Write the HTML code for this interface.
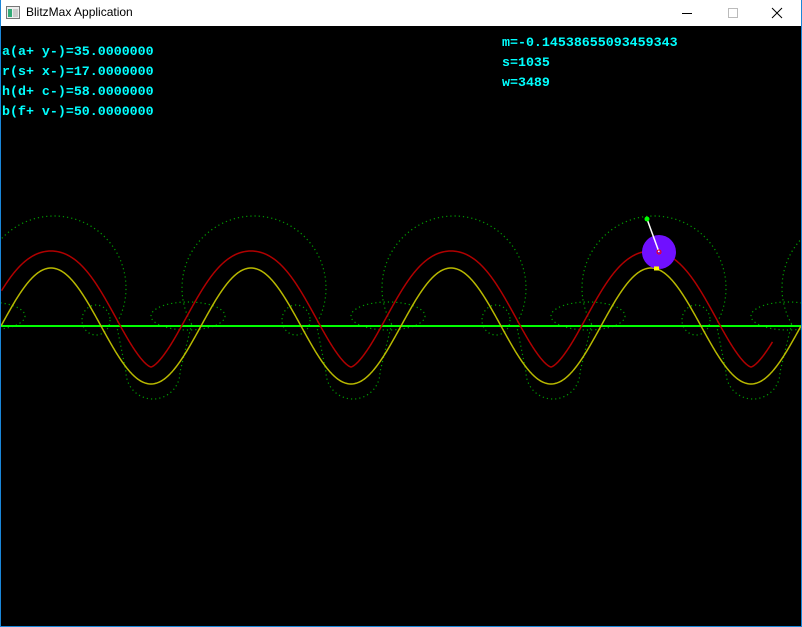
<!DOCTYPE html>
<html><head><meta charset="utf-8"><style>
html,body{margin:0;padding:0;background:#fff;}
#win{position:relative;width:802px;height:627px;overflow:hidden;background:#fff;}
#title{position:absolute;left:0;top:0;width:802px;height:26px;background:#fff;}
#title span{position:absolute;left:26px;top:5px;font:12px "Liberation Sans",sans-serif;color:#000;}
#canvas{position:absolute;left:1px;top:26px;width:800px;height:600px;background:#000;}
.frame{position:absolute;background:#1a86d8;}
.txt{position:absolute;font:bold 13.3px "Liberation Mono",monospace;color:#0ff;white-space:pre;line-height:20px;}
</style></head><body>
<div id="win">
<div id="title">
 <svg style="position:absolute;left:6px;top:6px" width="14" height="13"><rect x="0.5" y="0.5" width="13" height="12" fill="#eee" stroke="#777"/><rect x="2" y="3" width="4" height="8" fill="#3a7"/><rect x="7" y="3" width="5" height="8" fill="#ccc"/></svg>
 <span>BlitzMax Application</span>
 <svg style="position:absolute;left:680px;top:6px" width="14" height="14"><line x1="2" y1="7.5" x2="12" y2="7.5" stroke="#000"/></svg>
 <svg style="position:absolute;left:726px;top:6px" width="14" height="14"><rect x="2.5" y="2.5" width="9" height="9" fill="none" stroke="#bbb"/></svg>
 <svg style="position:absolute;left:770px;top:6px" width="14" height="14"><path d="M2 2L12 12M12 2L2 12" stroke="#000"/></svg>
</div>
<div class="frame" style="left:0;top:0;width:1px;height:627px"></div>
<div class="frame" style="right:0;top:0;width:1px;height:627px"></div>
<div class="frame" style="left:0;bottom:0;width:802px;height:1px"></div>
<div id="canvas">
 <svg id="plot" width="800" height="600" style="position:absolute;left:0;top:0"></svg>
 <div class="txt" style="left:1px;top:16px">a(a+ y-)=35.0000000
r(s+ x-)=17.0000000
h(d+ c-)=58.0000000
b(f+ v-)=50.0000000</div>
 <div class="txt" style="left:501px;top:7px">m=-0.14538655093459343
s=1035
w=3489</div>
</div>
</div>
<script>
// canvas coordinates (canvas origin at window x=1,y=26)
const waveParams = [58, 200, 17];      // amplitude h, period, offset r
const baselineY = [300];               // green axis line (canvas y)
const periodStarts = [-200, 0, 200, 400, 600, 800];
const bigArc = [53, -38, 72];          // dx, dy from baseline, radius
const troughArc = [152, 46, 27];
const loopA = [95, -6, 14, 15];        // dx, dy, rx, ry
const loopB = [187, -10, 37, 14];
const ball = [658, 226, 17];
const tip = [646, 193];

const NS = "http://www.w3.org/2000/svg";
const svg = document.getElementById('plot');
function mk(tag, attrs){const e=document.createElementNS(NS,tag);for(const k in attrs)e.setAttribute(k,attrs[k]);svg.appendChild(e);return e;}
const A=waveParams[0], P=waveParams[1], R=waveParams[2], y0=baselineY[0];
function yOf(x){return y0 - A*Math.sin(2*Math.PI*x/P);}
function dyOf(x){return -A*2*Math.PI/P*Math.cos(2*Math.PI*x/P);}

// dotted green trace
const dot={fill:'none',stroke:'#00a000','stroke-width':1.2,'stroke-dasharray':'1.2 3'};
for(const p of periodStarts){
  const cx=p+bigArc[0], cy=y0+bigArc[1], r=bigArc[2];
  const ey=y0-2, dx=Math.sqrt(r*r-(ey-cy)*(ey-cy));
  const tx=p+troughArc[0], ty=y0+troughArc[1], tr=troughArc[2];
  const d='M'+(cx-dx)+' '+ey+' A'+r+' '+r+' 0 1 1 '+(cx+dx)+' '+ey+
          ' L'+(tx-tr)+' '+ty+' A'+tr+' '+tr+' 0 0 0 '+(tx+tr)+' '+ty+
          ' L'+(cx+P-dx)+' '+ey;
  const e=mk('path',Object.assign({d:d},dot));
  
  
  for(const l of [loopA,loopB]){
    const q=mk('ellipse',Object.assign({cx:p+l[0],cy:y0+l[1],rx:l[2],ry:l[3]},dot));
    
    
  }
}
// green axis
const ax=mk('line',{x1:0,y1:y0,x2:800,y2:y0,stroke:'#00ff00','stroke-width':2});


// yellow sine
let d='';
for(let x=0;x<=800;x++){d+=(x?'L':'M')+x+' '+yOf(x).toFixed(2);}
const yl=mk('path',{d:d,fill:'none',stroke:'#b8b800','stroke-width':1.5});


// red parallel curve (offset along upward normal)
let d2='';
for(let x=-30;x<=786;x+=0.5){
  const s=dyOf(x), n=Math.hypot(1,s);
  const X = x + s/n*R, Y = yOf(x) - R/n;
  if(X<0||X>787) continue;
  d2+=(d2?'L':'M')+X.toFixed(2)+' '+Y.toFixed(2);
}
const rl=mk('path',{d:d2,fill:'none',stroke:'#b00000','stroke-width':1.5});


// ball
const b=mk('circle',{cx:ball[0],cy:ball[1],r:ball[2],fill:'#7010ff'});


const ln=mk('line',{x1:tip[0],y1:tip[1],x2:ball[0],y2:ball[1],stroke:'#fff','stroke-width':1.5});


const rc=mk('circle',{cx:ball[0],cy:ball[1],r:2,fill:'none',stroke:'#f00'});


const gd=mk('circle',{cx:tip[0],cy:tip[1],r:2.5,fill:'#0f0'});


const ys=mk('rect',{x:ball[0]-5,y:yOf(ball[0]-4)-2,width:5,height:4,fill:'#ff0'});


</script>
</body></html>
